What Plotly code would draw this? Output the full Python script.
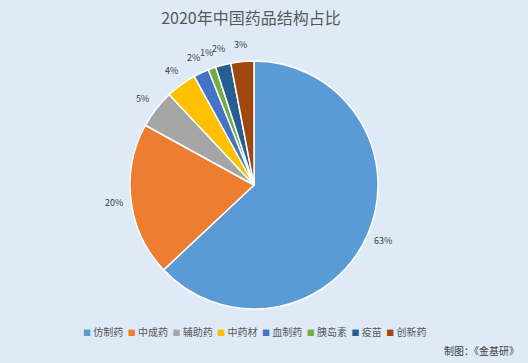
import math
import plotly.graph_objects as go

categories = ["仿制药", "中成药", "辅助药", "中药材", "血制药", "胰岛素", "疫苗", "创新药"]
values = [63, 20, 5, 4, 2, 1, 2, 3]
colors = ["#5B9BD5", "#ED7D31", "#A5A5A5", "#FFC000", "#4472C4", "#70AD47", "#255E91", "#9E480E"]

FONT = "Noto Sans CJK SC, Microsoft YaHei, sans-serif"
W, H = 528, 363
CX, CY, R = 254, 185, 124      # pie centre / radius in pixels
LABEL_R = 141                   # label distance from centre

fig = go.Figure(go.Pie(
    labels=categories,
    values=values,
    sort=False,
    direction="clockwise",
    rotation=0,
    marker=dict(colors=colors, line=dict(color="white", width=1.5)),
    textinfo="none",
    domain=dict(x=[(CX - R) / W, (CX + R) / W], y=[1 - (CY + R) / H, 1 - (CY - R) / H]),
    hoverinfo="label+percent",
    showlegend=False,
))

# outside percentage labels placed at each slice's mid-angle
annotations = []
total = sum(values)
cum = 0
for v in values:
    theta = 2 * math.pi * (cum + v / 2) / total
    cum += v
    px = CX + LABEL_R * math.sin(theta)
    py = CY - LABEL_R * math.cos(theta)
    annotations.append(dict(text=f"{v}%", x=px / W, y=1 - py / H, xref="paper", yref="paper",
                            xanchor="center", yanchor="middle", showarrow=False,
                            font=dict(size=9, color="#404040", family=FONT)))

# compact one-row legend (colour squares + category names)
legend_text = "&nbsp;&nbsp;".join(
    f"<span style='color:{c};font-size:8px'>■</span>&nbsp;{name}" for name, c in zip(categories, colors)
)
annotations.append(dict(text=legend_text, x=254 / W, xanchor="center", y=1 - 331 / H, yanchor="middle",
                        xref="paper", yref="paper", showarrow=False,
                        font=dict(size=10, color="#595959", family=FONT)))

annotations.append(dict(text="制图：《金基研》", x=0.987, xanchor="right", y=1 - 350 / H, yanchor="middle",
                        xref="paper", yref="paper", showarrow=False,
                        font=dict(size=10, color="#404040", family=FONT)))

fig.update_layout(
    width=W, height=H,
    paper_bgcolor="#DEEAF6",
    plot_bgcolor="#DEEAF6",
    margin=dict(l=0, r=0, t=0, b=0),
    title=dict(text="2020年中国药品结构占比", x=251 / W, xanchor="center", y=1 - 18 / H, yanchor="middle",
               font=dict(size=16, color="#595959", family=FONT)),
    showlegend=False,
    annotations=annotations,
)

fig.write_html("out.html", config={"displayModeBar": False},
               post_script="document.body.style.margin='0';")
